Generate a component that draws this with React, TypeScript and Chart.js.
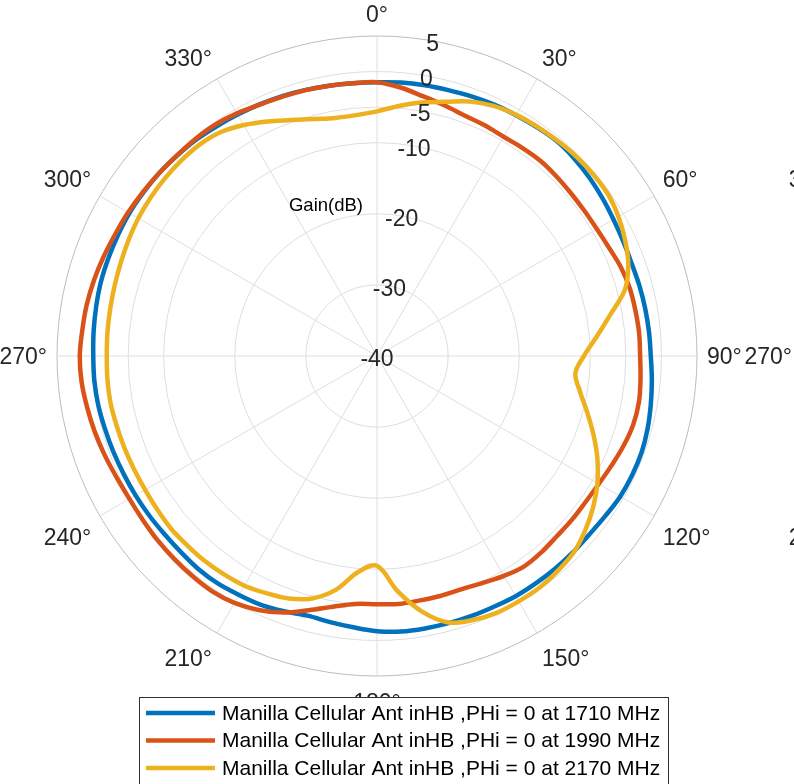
import React, { useEffect, useRef } from "react";
import { Chart, registerables } from "chart.js";

Chart.register(...registerables);

// Angle categories (degrees, clockwise from top)
const angles = [
  0, 5, 10, 15, 20, 25, 30, 35, 40, 45, 50, 55,
  60, 65, 70, 75, 80, 85, 90, 95, 100, 105, 110, 115,
  120, 125, 130, 135, 140, 145, 150, 155, 160, 165, 170, 175,
  180, 185, 190, 195, 200, 205, 210, 215, 220, 225, 230, 235,
  240, 245, 250, 255, 260, 265, 270, 275, 280, 285, 290, 295,
  300, 305, 310, 315, 320, 325, 330, 335, 340, 345, 350, 355,
];

// Gain (dB) series
const gain1710 = [
  -1.5, -1.4, -1.35, -1.3, -1.15, -1.0, -0.9, -0.75, -0.6, -0.75, -1.0, -1.3,
  -1.6, -1.8, -1.9, -1.8, -1.7, -1.6, -1.5, -1.2, -0.9, -0.6, -0.4, -0.4,
  -0.5, -0.8, -1.0, -1.0, -1.0, -1.0, -1.0, -1.1, -1.1, -1.1, -1.1, -1.1,
  -1.3, -1.7, -2.0, -2.2, -1.8, -1.4, -1.2, -0.95, -0.9, -1.0, -1.0, -0.9,
  -0.8, -0.7, -0.55, -0.4, -0.2, -0.1, -0.1, 0.0, 0.1, 0.2, 0.2, 0.2,
  0.2, 0.1, 0.0, -0.2, -0.35, -0.6, -0.8, -0.95, -1.1, -1.25, -1.4, -1.5,
];

const gain1990 = [
  -1.5, -2.1, -2.9, -3.5, -4.0, -4.2, -4.4, -4.3, -4.2, -4.3, -4.4, -4.4,
  -4.3, -4.0, -3.5, -3.2, -3.1, -3.0, -3.0, -2.8, -2.6, -2.7, -3.1, -3.6,
  -4.0, -4.2, -4.2, -4.2, -4.0, -3.9, -4.3, -4.8, -5.1, -5.1, -5.1, -5.0,
  -5.1, -5.0, -4.2, -3.0, -1.6, -0.6, 0.1, 0.4, 0.4, 0.35, 0.3, 0.2,
  0.2, 0.4, 0.75, 1.1, 1.4, 1.7, 1.8, 1.6, 1.45, 1.2, 0.9, 0.6,
  0.4, 0.2, 0.0, -0.15, -0.2, -0.3, -0.6, -1.0, -1.2, -1.3, -1.4, -1.5,
];

const gain2170 = [
  -5.6, -4.7, -3.8, -3.0, -1.9, -1.2, -0.85, -0.65, -0.5, -0.35, -0.3, -0.35,
  -0.8, -1.5, -2.4, -3.9, -6.7, -9.0, -10.9, -12.0, -11.0, -9.4, -7.6, -5.8,
  -4.2, -2.9, -1.8, -0.9, -0.5, -0.2, -0.15, -0.15, -0.5, -1.2, -3.5, -6.8,
  -10.5, -9.5, -6.6, -4.7, -3.7, -3.2, -2.7, -2.5, -2.35, -2.3, -2.2, -2.3,
  -2.35, -2.3, -2.2, -2.1, -1.95, -1.95, -2.0, -1.95, -1.9, -1.8, -1.65, -1.45,
  -1.25, -1.15, -1.1, -1.1, -1.2, -1.6, -2.5, -3.6, -4.7, -5.5, -6.0, -6.0,
];

const seriesLabels = [
  "Manilla Cellular Ant inHB ,PHi = 0 at 1710 MHz",
  "Manilla Cellular Ant inHB ,PHi = 0 at 1990 MHz",
  "Manilla Cellular Ant inHB ,PHi = 0 at 2170 MHz",
];
const seriesColors = ["#0072BD", "#D95319", "#EDB120"];

// Radial ticks (dB) and angular tick labels
const rTicks = [-40, -30, -20, -10, -5, 0, 5];
const thetaTicks = [0, 30, 60, 90, 120, 150, 180, 210, 240, 270, 300, 330];
const thetaLabels = ["0°", "30°", "60°", "90°", "120°", "150°", "180°", "210°", "240°", "270°", "300°", "330°"];
// neighbouring (clipped) polar plot labels visible at right edge
const ghostTicks = [240, 270, 300];
const ghostLabels = ["240°", "270°", "300°"];

const FONT = '"Liberation Sans", Arial, Helvetica, sans-serif';

function drawAngleLabel(ctx: CanvasRenderingContext2D, cx: number, cy: number, r: number, t: number, text: string) {
  const a = (t * Math.PI) / 180;
  const x = cx + r * Math.sin(a);
  let y = cy - r * Math.cos(a);
  ctx.textAlign = t % 180 === 0 ? "center" : t < 180 ? "left" : "right";
  if (t === 90 || t === 270) {
    ctx.textBaseline = "middle";
    y += 2;
  } else if (t < 90 || t > 270) {
    ctx.textBaseline = "bottom";
    y += 1;
  } else {
    ctx.textBaseline = "top";
    y += 6;
  }
  ctx.fillText(text, x, y);
}

const polarDecor = {
  id: "polarDecor",
  afterDatasetsDraw(chart: any) {
    const s = chart.scales.r;
    const ctx: CanvasRenderingContext2D = chart.ctx;
    const cx = s.xCenter;
    const cy = s.yCenter;
    const R = s.drawingArea;
    ctx.save();

    // radial tick labels along 10° direction
    ctx.font = `23px ${FONT}`;
    ctx.fillStyle = "#262626";
    ctx.textAlign = "center";
    ctx.textBaseline = "middle";
    const ra = (10 * Math.PI) / 180;
    rTicks.forEach((v) => {
      const d = s.getDistanceFromCenterForValue(v);
      ctx.fillText(String(v), cx + d * Math.sin(ra), cy - d * Math.cos(ra) + 4);
    });

    // Gain(dB) label
    ctx.font = `18.5px ${FONT}`;
    ctx.fillStyle = "#000";
    const gd = s.getDistanceFromCenterForValue(-17.5);
    const ga = (-18.6 * Math.PI) / 180;
    ctx.fillText("Gain(dB)", cx + gd * Math.sin(ga), cy - gd * Math.cos(ga) + 2);

    // angular labels
    ctx.font = `23px ${FONT}`;
    ctx.fillStyle = "#262626";
    thetaTicks.forEach((t, i) => drawAngleLabel(ctx, cx, cy, R + 10, t, thetaLabels[i]));
    const gx = cx + 2 * R + 105;
    ghostTicks.forEach((t, i) => drawAngleLabel(ctx, gx, cy, R + 10, t, ghostLabels[i]));

    // legend box
    const bx = 139.5, by = 697.5, bw = 529, bh = 120;
    ctx.fillStyle = "#fff";
    ctx.fillRect(bx, by, bw, bh);
    ctx.strokeStyle = "#333";
    ctx.lineWidth = 1;
    ctx.strokeRect(bx, by, bw, bh);
    ctx.font = `21px ${FONT}`;
    ctx.textAlign = "left";
    ctx.textBaseline = "middle";
    seriesLabels.forEach((lab, i) => {
      const yy = 713 + i * 27.5;
      ctx.strokeStyle = seriesColors[i];
      ctx.lineWidth = 4.5;
      ctx.beginPath();
      ctx.moveTo(146, yy);
      ctx.lineTo(215, yy);
      ctx.stroke();
      ctx.fillStyle = "#000";
      ctx.fillText(lab, 222, yy + 1);
    });
    ctx.restore();
  },
};

export default function App() {
  const ref = useRef<HTMLCanvasElement | null>(null);
  useEffect(() => {
    if (!ref.current) return;
    const series = [gain1710, gain1990, gain2170];
    const chart = new Chart(ref.current, {
      type: "radar",
      data: {
        labels: angles.map((a) => `${a}°`),
        datasets: series.map((d, i) => ({
          label: seriesLabels[i],
          data: d,
          borderColor: seriesColors[i],
          backgroundColor: "transparent",
          borderWidth: 4.5,
          pointRadius: 0,
          fill: false,
          tension: 0.35,
          order: 3 - i,
        })),
      },
      options: {
        animation: false,
        responsive: true,
        maintainAspectRatio: false,
        layout: { padding: { left: 57, top: 36, right: 97, bottom: 108 } },
        plugins: { legend: { display: false }, tooltip: { enabled: false } },
        scales: {
          r: {
            min: -40,
            max: 5,
            beginAtZero: false,
            afterBuildTicks: (scale: any) => {
              scale.ticks = rTicks.map((v) => ({ value: v }));
            },
            ticks: { display: false },
            pointLabels: { display: false },
            grid: {
              circular: true,
              lineWidth: 1,
              color: (c: any) => (c.tick && c.tick.value === 5 ? "#bcbcbc" : "#dedede"),
            },
            angleLines: {
              color: "#dedede",
              lineWidth: (c: any) => (angles[c.index] % 30 === 0 ? 1 : 0),
            },
          },
        },
      },
      plugins: [polarDecor],
    });
    return () => chart.destroy();
  }, []);
  return (
    <div style={{ position: "absolute", left: 0, top: 0, width: 794, height: 784, background: "#fff" }}>
      <canvas ref={ref} />
    </div>
  );
}
